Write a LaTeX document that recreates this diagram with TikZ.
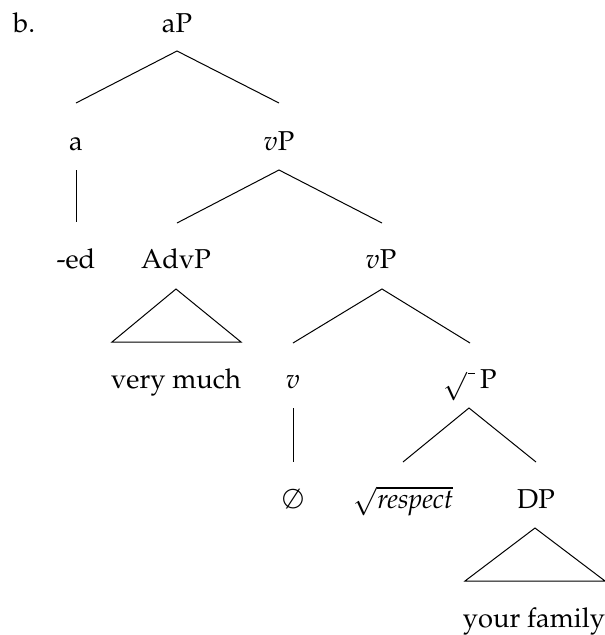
\documentclass[tikz,border=0pt]{standalone}
\usepackage[T1]{fontenc}
\usepackage{mathpazo}
\begin{document}
\begin{tikzpicture}[x=1pt,y=-1pt,
  lbl/.style={anchor=base, inner sep=0pt, font=\fontsize{27.3}{32}\selectfont},
  edge/.style={line width=1pt, line join=miter}]
\useasboundingbox (0,0) rectangle (605,635);
% labels
\node[lbl, anchor=base west] (ex) at (13,32) {b.};
\node[lbl] (aP) at (177,32) {aP};
\node[lbl] (a) at (76,150) {a};
\node[lbl] (vP1) at (279,150) {$v$P};
\node[lbl] (ed) at (76,268) {-ed};
\node[lbl] (AdvP) at (176,268) {AdvP};
\node[lbl] (vP2) at (381,268) {$v$P};
\node[lbl] (vm) at (176,388) {very much};
\node[lbl] (v) at (293,388) {$v$};
\node[lbl] (rP) at (470,388) {$\sqrt{\;}\,$P};
\node[lbl] (nul) at (293,508) {$\emptyset$};
\node[lbl] (resp) at (403,508) {$\sqrt{\textit{respect}}$};
\node[lbl] (DP) at (536,508) {DP};
\node[lbl] (yf) at (534,627) {your family};
% edge end points
\coordinate (aP-s) at (177,51);
\coordinate (a-n) at (76,103);
\coordinate (vP1-n) at (279,103);
\coordinate (a-s) at (76,170);
\coordinate (ed-n) at (76,222);
\coordinate (vP1-s) at (279,170);
\coordinate (AdvP-n) at (177,223);
\coordinate (vP2-n) at (382,223);
\coordinate (AdvP-s) at (176,289);
\coordinate (AdvP-l) at (112,342);
\coordinate (AdvP-r) at (241,342);
\coordinate (vP2-s) at (382,289);
\coordinate (v-n) at (293,343);
\coordinate (rP-n) at (470,343);
\coordinate (v-s) at (293,408);
\coordinate (nul-n) at (293,462);
\coordinate (rP-s) at (469,408);
\coordinate (resp-n) at (403,462);
\coordinate (DP-n) at (536,462);
\coordinate (DP-s) at (535,528);
\coordinate (DP-l) at (465,581);
\coordinate (DP-r) at (605,581);
% edges
\draw[edge] (a-n) -- (aP-s) -- (vP1-n);
\draw[edge] (a-s) -- (ed-n);
\draw[edge] (AdvP-n) -- (vP1-s) -- (vP2-n);
\draw[edge] (AdvP-s) -- (AdvP-l) -- (AdvP-r) -- cycle;
\draw[edge] (v-n) -- (vP2-s) -- (rP-n);
\draw[edge] (v-s) -- (nul-n);
\draw[edge] (resp-n) -- (rP-s) -- (DP-n);
\draw[edge] (DP-s) -- (DP-l) -- (DP-r) -- cycle;
\end{tikzpicture}
\end{document}
